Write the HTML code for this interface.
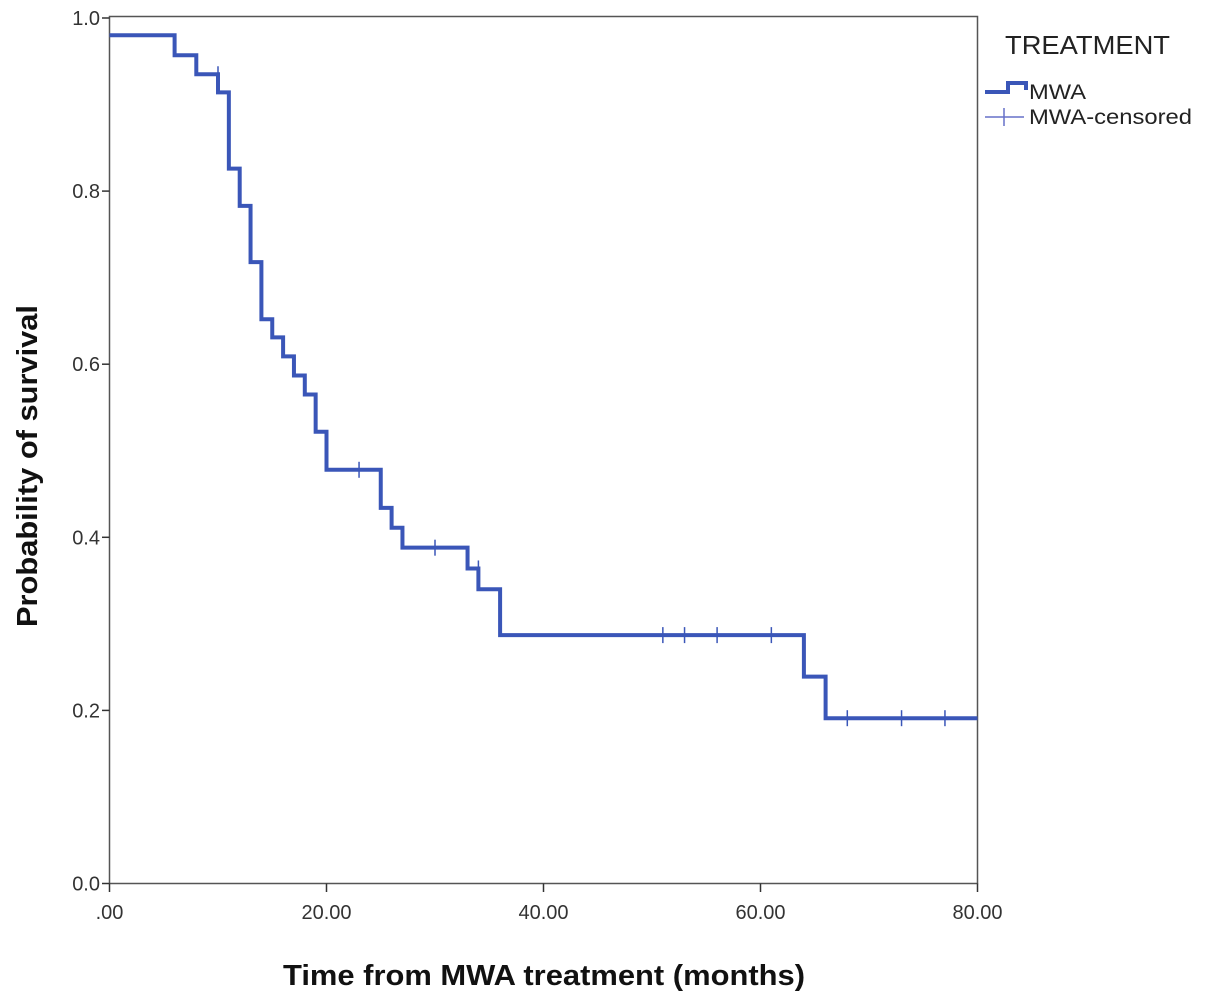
<!DOCTYPE html>
<html><head><meta charset="utf-8"><style>
body{margin:0;background:#fff}
svg{display:block;font-family:"Liberation Sans",Arial,sans-serif}
</style></head><body>
<svg id="chart" width="1205" height="1005">
<rect x="0" y="0" width="1205" height="1005" fill="#fff"/>
<rect x="109.5" y="16.5" width="868" height="867" fill="none" stroke="#555" stroke-width="1.5"/>
<g id="axes"></g>
<path id="curve" fill="none" stroke="#3a56b8" stroke-width="4"/>
<g id="censors"></g>
<text x="0" y="0" transform="translate(37,466) rotate(-90)" text-anchor="middle" font-size="29" font-weight="bold" fill="#111" textLength="322" lengthAdjust="spacingAndGlyphs">Probability of survival</text>
<text x="544" y="985" text-anchor="middle" font-size="29" font-weight="bold" fill="#111" textLength="522" lengthAdjust="spacingAndGlyphs">Time from MWA treatment (months)</text>
<g>
<text x="1005" y="54" font-size="26" fill="#222" textLength="165" lengthAdjust="spacingAndGlyphs">TREATMENT</text>
<path d="M985 92 H1008 V83 H1026 V90" fill="none" stroke="#3a56b8" stroke-width="4"/>
<text x="1029" y="99" font-size="21" fill="#222" textLength="57" lengthAdjust="spacingAndGlyphs">MWA</text>
<line x1="985" y1="117" x2="1024" y2="117" stroke="#6670c8" stroke-width="1.5"/>
<line x1="1004" y1="108" x2="1004" y2="126" stroke="#6670c8" stroke-width="1.5"/>
<text x="1029" y="124" font-size="21" fill="#222" textLength="163" lengthAdjust="spacingAndGlyphs">MWA-censored</text>
</g>
</svg>
<script>
const stepTimes=[0,6,8,10,11,12,13,14,15,16,17,18,19,20,25,26,27,33,34,36,64,66];
const stepSurv=[0.980,0.957,0.935,0.914,0.826,0.783,0.718,0.652,0.631,0.609,0.587,0.565,0.522,0.478,0.434,0.411,0.388,0.364,0.340,0.287,0.239,0.191];
const censorTimes=[10,23,30,34,51,53,56,61,68,73,77];
const xTicks=[0,20,40,60,80];
const xTickLabels=[".00","20.00","40.00","60.00","80.00"];
const yTicks=[0,0.2,0.4,0.6,0.8,1.0];
const yTickLabels=["0.0","0.2","0.4","0.6","0.8","1.0"];
const xMax=80;
const X=t=>109.5+t*(977.5-109.5)/80;
const Y=s=>883.5-s*(883.5-18)/1;
const NS="http://www.w3.org/2000/svg";
function mk(tag,attrs,parent){const e=document.createElementNS(NS,tag);for(const k in attrs)e.setAttribute(k,attrs[k]);parent.appendChild(e);return e;}
const axes=document.getElementById('axes');
xTicks.forEach((t,i)=>{
  const l=mk('line',{x1:X(t),x2:X(t),y1:883.5,y2:892,stroke:'#333','stroke-width':1.5},axes);
  
  
  const tx=mk('text',{x:X(t),y:919,'text-anchor':'middle','font-size':20,fill:'#333'},axes);
  tx.textContent=xTickLabels[i];
  
  
});
yTicks.forEach((v,i)=>{
  const l=mk('line',{x1:102,x2:109.5,y1:Y(v),y2:Y(v),stroke:'#333','stroke-width':1.5},axes);
  
  
  const tx=mk('text',{x:100,y:Y(v)+7,'text-anchor':'end','font-size':20,fill:'#333'},axes);
  tx.textContent=yTickLabels[i];
  
  
});
let d='M'+X(stepTimes[0])+' '+Y(stepSurv[0]);
for(let i=1;i<stepTimes.length;i++){d+=' H'+X(stepTimes[i])+' V'+Y(stepSurv[i]);}
d+=' H'+X(xMax);
document.getElementById('curve').setAttribute('d',d);
function survAt(t){let s=stepSurv[0];for(let i=0;i<stepTimes.length;i++){if(stepTimes[i]<t)s=stepSurv[i];}return s;}
const cg=document.getElementById('censors');
censorTimes.forEach(t=>{
  const y=Y(survAt(t));
  const l=mk('line',{x1:X(t),x2:X(t),y1:y-8,y2:y+8,stroke:'#3a56b8','stroke-width':1.5},cg);
  
  
});
</script>
</body></html>
